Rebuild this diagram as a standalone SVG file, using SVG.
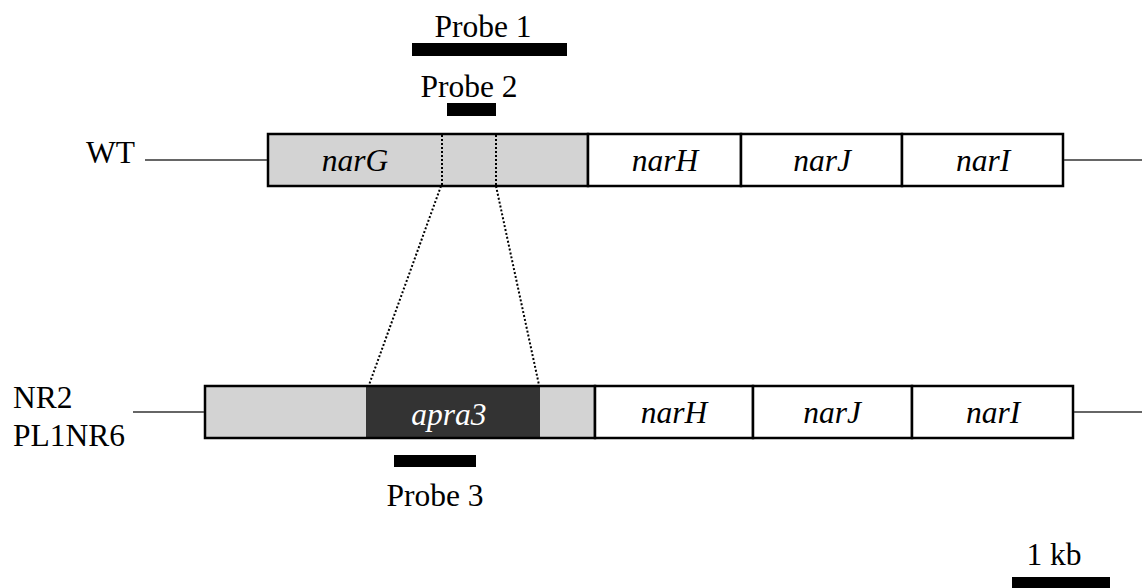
<svg xmlns="http://www.w3.org/2000/svg" width="1142" height="588" viewBox="0 0 1142 588">
<style>
.t{font-family:"Liberation Serif","Times New Roman",serif;font-size:31.5px;fill:#000}
.i{font-style:italic;text-anchor:middle}
.c{text-anchor:middle}
.box{stroke:#000;stroke-width:2.5}
.gray{fill:#d3d3d3}
.white{fill:#fff}
.dark{fill:#333}
.line{stroke:#333;stroke-width:1.5;fill:none}
.dot{stroke:#000;stroke-width:2;stroke-dasharray:2 2;fill:none}
.bar{fill:#000}
</style>
<rect width="1142" height="588" fill="#fff"/>
<g id="probe1"><rect class="bar" x="412" y="43" width="155" height="13"/><text class="t c" x="483" y="37">Probe 1</text></g>
<g id="probe2"><rect class="bar" x="447" y="103" width="49" height="13"/><text class="t c" x="469" y="97">Probe 2</text></g>
<g id="probe3"><rect class="bar" x="394" y="455" width="82" height="12"/><text class="t c" x="435" y="506">Probe 3</text></g>
<g id="wt-label"><text class="t" x="86" y="163">WT</text></g>
<g id="nr-label"><text class="t" x="13" y="408">NR2</text><text class="t" x="13" y="446">PL1NR6</text></g>
<g id="wt-narG"><rect class="box gray" x="268" y="134" width="320" height="52"/><text class="t i" x="355" y="171">narG</text></g>
<g id="wt-narH"><rect class="box white" x="588" y="134" width="153" height="52"/><text class="t i" x="665" y="171">narH</text></g>
<g id="wt-narJ"><rect class="box white" x="741" y="134" width="161" height="52"/><text class="t i" x="822" y="171">narJ</text></g>
<g id="wt-narI"><rect class="box white" x="902" y="134" width="161" height="52"/><text class="t i" x="983" y="171">narI</text></g>
<g id="nr-narG"><rect class="gray" x="205" y="386" width="390" height="52"/></g>
<g id="nr-apra3"><rect class="dark" x="366" y="386" width="174" height="52"/><text class="t i" x="449" y="425" style="fill:#fff">apra3</text></g>
<g id="nr-outline"><rect x="205" y="386" width="390" height="52" fill="none" stroke="#000" stroke-width="2.5"/></g>
<g id="nr-narH"><rect class="box white" x="595" y="386" width="158" height="52"/><text class="t i" x="674" y="423">narH</text></g>
<g id="nr-narJ"><rect class="box white" x="753" y="386" width="159" height="52"/><text class="t i" x="832" y="423">narJ</text></g>
<g id="nr-narI"><rect class="box white" x="912" y="386" width="161" height="52"/><text class="t i" x="993" y="423">narI</text></g>
<g id="scale"><rect class="bar" x="1012" y="577" width="98" height="11"/><text class="t c" x="1054" y="565">1 kb</text></g>
<g id="connectors">
<line class="line" x1="145" y1="160" x2="267" y2="160"/>
<line class="line" x1="1064" y1="160" x2="1142" y2="160"/>
<line class="line" x1="133" y1="412" x2="204" y2="412"/>
<line class="line" x1="1074" y1="412" x2="1142" y2="412"/>
<line class="dot" x1="442" y1="135" x2="442" y2="185"/>
<line class="dot" x1="496" y1="135" x2="496" y2="185"/>
<line class="dot" x1="441" y1="186" x2="369" y2="385"/>
<line class="dot" x1="496" y1="186" x2="539" y2="385"/>
</g>
</svg>
